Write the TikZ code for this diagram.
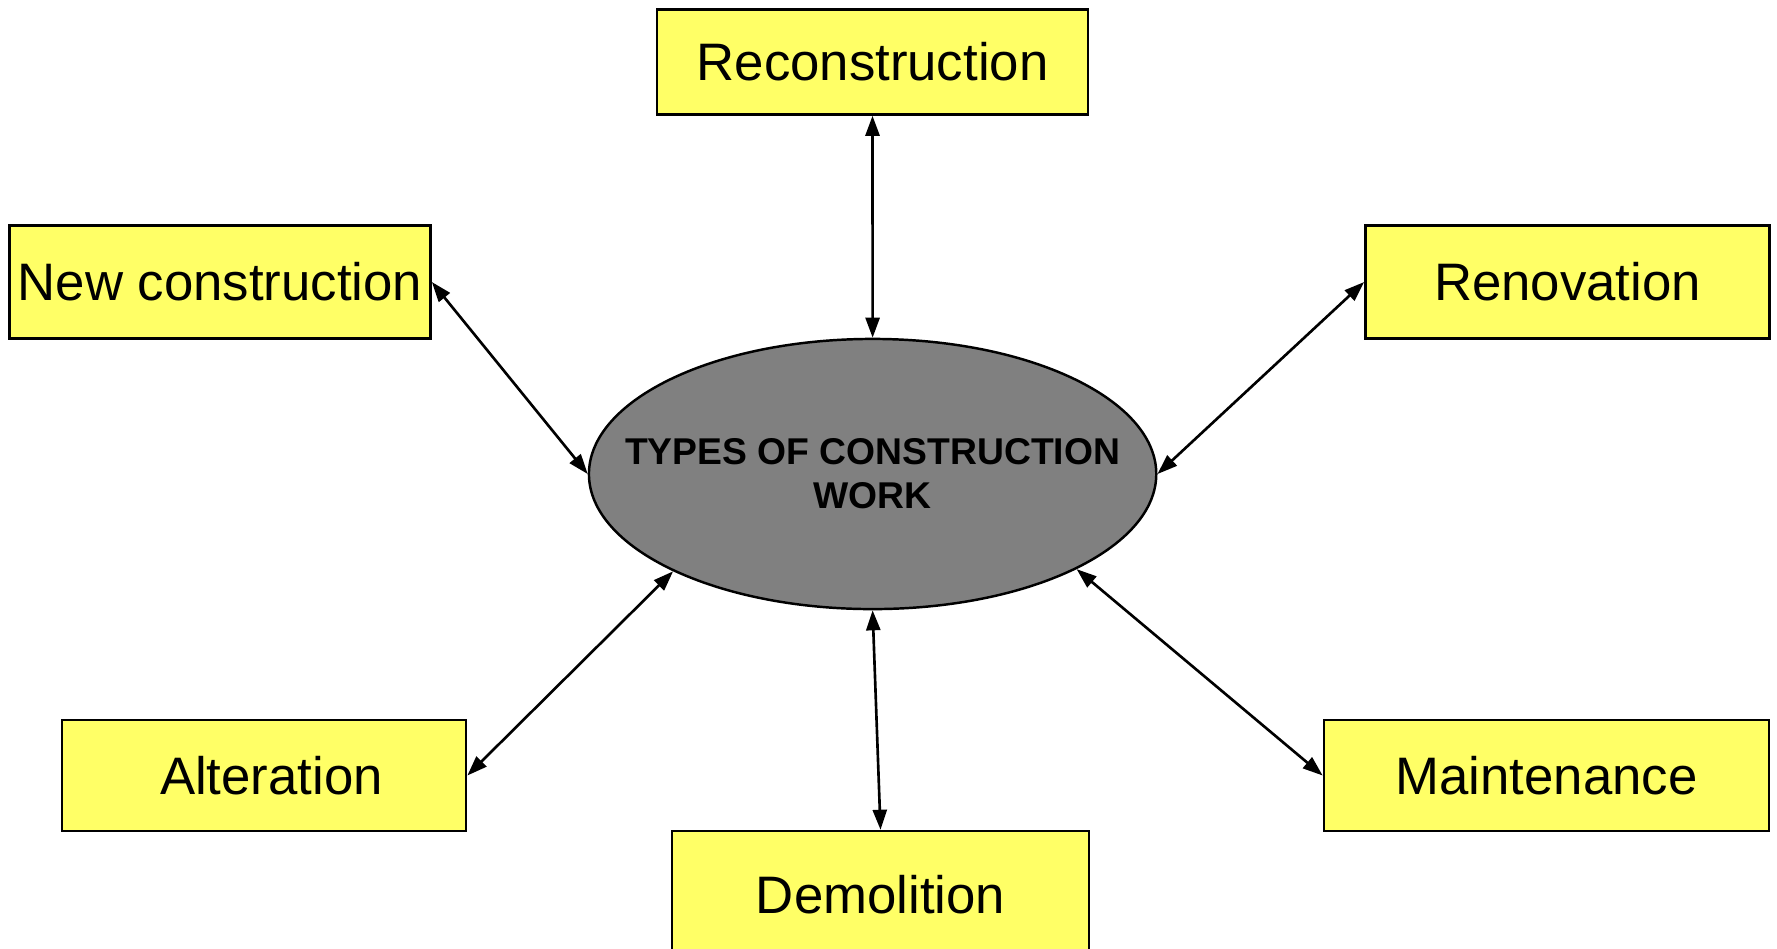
\documentclass[tikz,border=0pt]{standalone}
\usepackage{fontspec}
\setmainfont{Liberation Sans}
\usetikzlibrary{arrows.meta,shapes.geometric}
\definecolor{boxyellow}{HTML}{FFFF66}
\definecolor{ellgray}{HTML}{808080}
\tikzset{
  typebox/.style={draw=black, line width=0.7pt, fill=boxyellow, rectangle, inner sep=0pt,
    font=\fontsize{15}{18}\selectfont, text=black},
  centre/.style={draw=black, line width=0.7pt, fill=ellgray, ellipse, inner xsep=-0.6cm, inner ysep=0pt,
    minimum width=5.67cm, minimum height=2.7cm, align=center,
    font=\fontsize{10.6}{12.5}\selectfont\bfseries},
  link/.style={line width=0.75pt, {Triangle[length=2mm,width=1.4mm]}-{Triangle[length=2mm,width=1.4mm]}}
}
\begin{document}
\begin{tikzpicture}[x=0.01cm,y=-0.01cm]
\useasboundingbox (0,0) rectangle (1777,948);
\clip (0,0) rectangle (1777,948);
\node[centre] (c) at (872.6,474) {TYPES OF CONSTRUCTION\\WORK};
\node[typebox, minimum width=4.31cm, minimum height=1.05cm] (rec) at (872.5,62) {Reconstruction};
\node[typebox, minimum width=4.21cm, minimum height=1.13cm] (new) at (220,282) {New construction};
\node[typebox, minimum width=4.04cm, minimum height=1.13cm] (ren) at (1567.5,282) {Renovation};
\node[typebox, minimum width=4.04cm, minimum height=1.11cm] (alt) at (264,775.5) {\hspace*{0.15cm}Alteration};
\node[typebox, minimum width=4.45cm, minimum height=1.11cm] (mai) at (1546.5,775.5) {Maintenance};
\node[typebox, minimum width=4.17cm, minimum height=1.28cm] (dem) at (880.5,895) {Demolition};
\draw[link] (rec.south) -- (c.north);
\draw[link] (new.east) -- (c.west);
\draw[link] (ren.west) -- (c.east);
\draw[link] (alt.east) -- (c.-154.4);
\draw[link] (mai.west) -- (c.-25.5);
\draw[link] (dem.north) -- (c.south);
\end{tikzpicture}
\end{document}
